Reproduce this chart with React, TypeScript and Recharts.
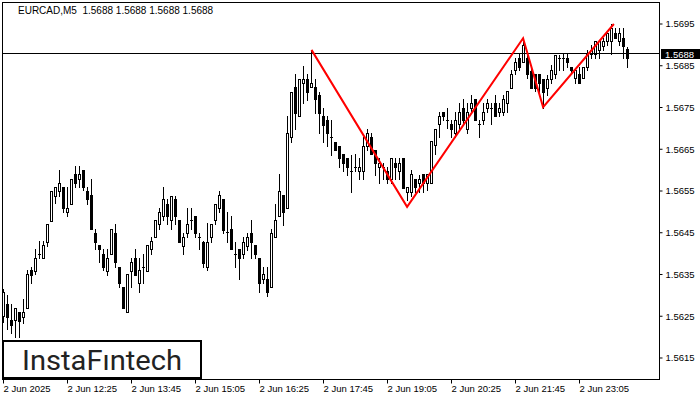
import { ComposedChart, Bar, Line, XAxis, YAxis, ReferenceLine } from 'recharts';

const FONT = '"Liberation Sans", Arial, sans-serif';

// EURCAD M5 candles
const opens = [
  1.56251, 1.56279, 1.56241, 1.56241, 1.5626, 1.56248, 1.5627, 1.56361, 1.56358, 1.56399,
  1.5639, 1.56428, 1.56478, 1.56538, 1.5655, 1.5656, 1.565, 1.56519, 1.56591, 1.56579,
  1.566, 1.5655, 1.5654, 1.56449, 1.56421, 1.56399, 1.56358, 1.56399, 1.56449, 1.56368,
  1.5632, 1.5626, 1.56358, 1.5639, 1.5633, 1.56368, 1.56358, 1.56411, 1.5644, 1.56471,
  1.5649, 1.56519, 1.56481, 1.56531, 1.56481, 1.56418, 1.56449, 1.56481, 1.5649, 1.5644,
  1.56428, 1.56368, 1.5644, 1.56481, 1.56509, 1.56531, 1.56452, 1.56459, 1.56399, 1.56411,
  1.56399, 1.56418, 1.56449, 1.56421, 1.5639, 1.56339, 1.56339, 1.5632, 1.5644, 1.5649,
  1.5654, 1.56509, 1.56679, 1.56799, 1.5673, 1.56809, 1.56818, 1.56799, 1.56799, 1.5678,
  1.5673, 1.5672, 1.56679, 1.56667, 1.56658, 1.56639, 1.56629, 1.56598, 1.56607, 1.56598,
  1.56598, 1.56658, 1.56679, 1.56648, 1.56607, 1.56607, 1.56598, 1.56579, 1.56617, 1.56598,
  1.56629, 1.56548, 1.56548, 1.56579, 1.56569, 1.56591, 1.56569, 1.56569, 1.5666, 1.5671,
  1.56739, 1.5672, 1.5671, 1.56689, 1.5671, 1.56749, 1.56699, 1.56749, 1.5677, 1.5671,
  1.5672, 1.56749, 1.56749, 1.56761, 1.56739, 1.56739, 1.56761, 1.56797, 1.5684, 1.56869,
  1.56859, 1.56869, 1.56837, 1.5683, 1.5683, 1.56818, 1.56797, 1.56818, 1.5683, 1.56869,
  1.56869, 1.56869, 1.56847, 1.56821, 1.5683, 1.56821, 1.56847, 1.56878, 1.56878, 1.56888,
  1.56897, 1.56909, 1.56909, 1.56928, 1.56909, 1.56916, 1.5689,
];
const highs = [
  1.56315, 1.56301, 1.56279, 1.5627, 1.5626, 1.56291, 1.56361, 1.56368, 1.56411, 1.5643,
  1.5643, 1.56471, 1.5655, 1.5656, 1.566, 1.5656, 1.5656, 1.56579, 1.5661, 1.5661,
  1.566, 1.5656, 1.56579, 1.56459, 1.56421, 1.56411, 1.56411, 1.56459, 1.56471, 1.56368,
  1.5632, 1.56351, 1.5639, 1.56411, 1.5639, 1.56399, 1.56421, 1.5644, 1.56481, 1.56509,
  1.5656, 1.56531, 1.56538, 1.56538, 1.56481, 1.56449, 1.56509, 1.56509, 1.5649, 1.56449,
  1.5643, 1.56473, 1.56471, 1.56519, 1.5655, 1.56531, 1.565, 1.5649, 1.56428, 1.56411,
  1.5644, 1.56449, 1.56481, 1.56421, 1.5639, 1.56368, 1.56368, 1.56459, 1.56519, 1.56591,
  1.5654, 1.5673, 1.56787, 1.5683, 1.56818, 1.56849, 1.5683, 1.56888, 1.56818, 1.56787,
  1.56749, 1.5673, 1.5672, 1.56667, 1.56658, 1.56639, 1.56629, 1.56636, 1.56639, 1.56629,
  1.56679, 1.56699, 1.56689, 1.56648, 1.56629, 1.56617, 1.56607, 1.56629, 1.56629, 1.56629,
  1.56629, 1.5656, 1.566, 1.56579, 1.56588, 1.56591, 1.56591, 1.5667, 1.56699, 1.56739,
  1.56739, 1.56749, 1.5672, 1.56739, 1.56761, 1.5677, 1.56761, 1.5678, 1.5677, 1.5672,
  1.56761, 1.5677, 1.56761, 1.5678, 1.56761, 1.5678, 1.5679, 1.5684, 1.56869, 1.56878,
  1.56916, 1.56878, 1.56847, 1.5683, 1.5683, 1.56818, 1.56828, 1.56852, 1.56876, 1.56876,
  1.56878, 1.56878, 1.56847, 1.5684, 1.56847, 1.56847, 1.56888, 1.569, 1.56909, 1.56909,
  1.56916, 1.56928, 1.5695, 1.5694, 1.5694, 1.5694, 1.56895,
];
const lows = [
  1.56236, 1.56219, 1.5621, 1.562, 1.562, 1.56234, 1.5627, 1.5633, 1.56351, 1.5639,
  1.5639, 1.56418, 1.56478, 1.56521, 1.56538, 1.565, 1.5649, 1.56519, 1.5656, 1.5656,
  1.56552, 1.56519, 1.56459, 1.56411, 1.5638, 1.56361, 1.56349, 1.56399, 1.56368, 1.5632,
  1.5627, 1.5626, 1.5632, 1.56349, 1.56308, 1.5633, 1.56358, 1.56399, 1.5644, 1.56459,
  1.56481, 1.56471, 1.56459, 1.56471, 1.56428, 1.56399, 1.5644, 1.56459, 1.5644, 1.56411,
  1.56368, 1.56361, 1.56428, 1.56471, 1.565, 1.56449, 1.56428, 1.56411, 1.56368, 1.56339,
  1.5639, 1.56409, 1.5639, 1.5639, 1.56308, 1.5633, 1.56299, 1.5632, 1.5644, 1.5649,
  1.56469, 1.56509, 1.56667, 1.56699, 1.5673, 1.56761, 1.56768, 1.56799, 1.56737, 1.56689,
  1.56667, 1.56658, 1.56636, 1.56648, 1.56607, 1.56598, 1.56588, 1.56548, 1.56598, 1.56579,
  1.56579, 1.56648, 1.56639, 1.56588, 1.56569, 1.56579, 1.56569, 1.56569, 1.56579, 1.56579,
  1.56557, 1.56528, 1.56538, 1.56548, 1.56548, 1.56548, 1.56552, 1.56569, 1.56639, 1.56679,
  1.5672, 1.56701, 1.56679, 1.56679, 1.56699, 1.5671, 1.56689, 1.56739, 1.5672, 1.56679,
  1.5671, 1.56739, 1.5671, 1.5673, 1.5673, 1.56732, 1.56739, 1.56797, 1.5683, 1.5684,
  1.56859, 1.56821, 1.56797, 1.5679, 1.5678, 1.56749, 1.5678, 1.56809, 1.56821, 1.5684,
  1.5684, 1.56847, 1.5683, 1.56809, 1.56809, 1.56821, 1.5684, 1.56869, 1.56869, 1.56869,
  1.56888, 1.569, 1.56878, 1.56916, 1.569, 1.56869, 1.56847,
];
const closes = [
  1.56308, 1.56248, 1.56229, 1.5627, 1.56239, 1.5626, 1.56351, 1.56349, 1.5639, 1.56399,
  1.56421, 1.56471, 1.5655, 1.5656, 1.56569, 1.56509, 1.56509, 1.56579, 1.56569, 1.56591,
  1.5656, 1.56531, 1.56459, 1.56428, 1.56411, 1.56368, 1.5639, 1.56459, 1.5638, 1.5633,
  1.5627, 1.56351, 1.5638, 1.56349, 1.56361, 1.56368, 1.56421, 1.5643, 1.56481, 1.565,
  1.56531, 1.5649, 1.56538, 1.5649, 1.56428, 1.5644, 1.56471, 1.56481, 1.56449, 1.5644,
  1.56378, 1.56428, 1.56471, 1.56519, 1.5654, 1.56457, 1.56452, 1.56411, 1.56399, 1.5639,
  1.56428, 1.5644, 1.56428, 1.56399, 1.5633, 1.56351, 1.56308, 1.56449, 1.56481, 1.5655,
  1.565, 1.56689, 1.56787, 1.56737, 1.56818, 1.56818, 1.56787, 1.56809, 1.5677, 1.56737,
  1.56708, 1.56689, 1.56679, 1.56648, 1.56629, 1.56617, 1.56607, 1.56598, 1.56607, 1.56607,
  1.56658, 1.56689, 1.56639, 1.56617, 1.56617, 1.56607, 1.56579, 1.56629, 1.56607, 1.56617,
  1.56557, 1.5656, 1.56591, 1.5656, 1.56579, 1.56569, 1.56591, 1.5667, 1.56699, 1.5673,
  1.5673, 1.5672, 1.56699, 1.5672, 1.56739, 1.5672, 1.56739, 1.56761, 1.5672, 1.5671,
  1.56739, 1.56761, 1.56749, 1.5673, 1.56749, 1.5677, 1.5679, 1.5683, 1.56859, 1.56847,
  1.569, 1.5683, 1.56797, 1.56797, 1.56809, 1.56787, 1.56818, 1.5684, 1.56876, 1.56869,
  1.56869, 1.56859, 1.5684, 1.5684, 1.56809, 1.56847, 1.56878, 1.56888, 1.56909, 1.56909,
  1.56909, 1.56928, 1.5694, 1.56916, 1.56928, 1.56897, 1.56869,
];

// triple-top pattern line: bar index / price
const patternIdx = [77, 100.9, 129.9, 134.9, 152.6];
const patternPrice = [1.56888, 1.56512, 1.56916, 1.56751, 1.5695];

const xTicks = [0, 16, 32, 48, 64, 80, 96, 112, 128, 144];
const xLabels = ['2 Jun 2025', '2 Jun 12:25', '2 Jun 13:45', '2 Jun 15:05', '2 Jun 16:25', '2 Jun 17:45', '2 Jun 19:05', '2 Jun 20:25', '2 Jun 21:45', '2 Jun 23:05'];
const yTicks = [1.5615, 1.5625, 1.5635, 1.5645, 1.5655, 1.5665, 1.5675, 1.5685, 1.5695];
const LAST = 1.5688;

const rows = opens.map((o, i) => ({ i, open: o, high: highs[i], low: lows[i], close: closes[i], range: [lows[i], highs[i]] }));
const pattern = patternIdx.map((i, k) => ({ i, v: patternPrice[k] }));

function Candle(props: any) {
  const { x, y, width, height, payload } = props;
  if (!payload || x == null || y == null) return null;
  const { open, high, low, close } = payload;
  const span = high - low;
  const py = (v: number) => Math.round(span > 0 ? y + ((high - v) / span) * height : y);
  const cx = Math.floor(x + width / 2);
  const yH = py(high), yL = py(low);
  const top = py(Math.max(open, close)), bot = py(Math.min(open, close));
  const up = close > open;
  return (
    <g>
      <rect x={cx} y={yH} width={1} height={yL - yH + 1} fill="#000" />
      <rect x={cx - 1} y={top} width={3} height={bot - top + 1} fill="#000" />
      {up && bot - top > 1 && <rect x={cx} y={top + 1} width={1} height={bot - top - 1} fill="#fff" />}
    </g>
  );
}

function XTick({ x, y, payload }: any) {
  return (
    <text x={x} y={y} dy="0.71em" textAnchor="start" fontSize={9.5} fontFamily={FONT} fill="#000">
      {xLabels[xTicks.indexOf(payload.value)]}
    </text>
  );
}

function PriceTag({ viewBox }: any) {
  if (!viewBox) return null;
  const right = viewBox.x + viewBox.width;
  const ly = Math.floor(viewBox.y);
  return (
    <g>
      <rect x={right + 1.5} y={ly - 4} width={40} height={10} fill="#000" />
      <text x={right + 5.5} y={ly + 1} dominantBaseline="central" fontSize={9.5} fontFamily={FONT} fill="#fff">
        {LAST.toFixed(4)}
      </text>
    </g>
  );
}

export default function App() {
  return (
    <div style={{ position: 'absolute', left: 0, top: 0, width: 700, height: 400, background: '#fff', fontFamily: FONT }}>
      <ComposedChart width={700} height={400} data={rows} margin={{ top: 2.5, right: 0, bottom: 0, left: 2.5 }}>
        <XAxis type="number" dataKey="i" domain={[-0.25, 164]} allowDataOverflow ticks={xTicks} interval={0} height={20.5}
          tick={<XTick />} tickSize={4} stroke="#000" axisLine={{ stroke: '#000' }} tickLine={{ stroke: '#000' }} />
        <YAxis orientation="right" type="number" domain={[1.560985, 1.570015]} allowDataOverflow ticks={yTicks} width={40.5}
          tickSize={3} tickMargin={3} axisLine={{ stroke: '#000' }} tickLine={{ stroke: '#000' }}
          tick={{ fill: '#000', fontSize: 9.5, fontFamily: FONT }} tickFormatter={(v: number) => v.toFixed(4)} />
        <ReferenceLine y={LAST} stroke="#000"
          shape={(p: any) => <line x1={p.x1} x2={p.x2} y1={Math.floor(p.y1) + 0.5} y2={Math.floor(p.y2) + 0.5} stroke="#000" />}
          label={{ content: PriceTag }} />
        <Bar dataKey="range" barSize={3} shape={<Candle />} isAnimationActive={false} />
        <Line data={pattern} dataKey="v" stroke="#ff0000" strokeWidth={2} dot={false} isAnimationActive={false} />
      </ComposedChart>

      <div style={{ position: 'absolute', left: 2, top: 2, width: 658, height: 378, border: '1px solid #000', boxSizing: 'border-box', pointerEvents: 'none' }} />

      <div style={{ position: 'absolute', left: 18, top: 5, fontSize: 10, lineHeight: '12px', whiteSpace: 'pre', color: '#000' }}>
        {'EURCAD,M5  1.5688 1.5688 1.5688 1.5688'}
      </div>

      <div style={{ position: 'absolute', left: 2, top: 340, width: 200, height: 39, border: '2px solid #000', boxSizing: 'border-box', background: '#fff' }}>
        <svg width={196} height={35} style={{ display: 'block' }}>
          <text x={18} y={28} textLength={160} lengthAdjust="spacingAndGlyphs" fontSize={27} fontWeight={400}
            fontFamily='Roboto, "Open Sans", sans-serif' fill="#222">
            InstaFıntech
          </text>
        </svg>
      </div>
    </div>
  );
}
